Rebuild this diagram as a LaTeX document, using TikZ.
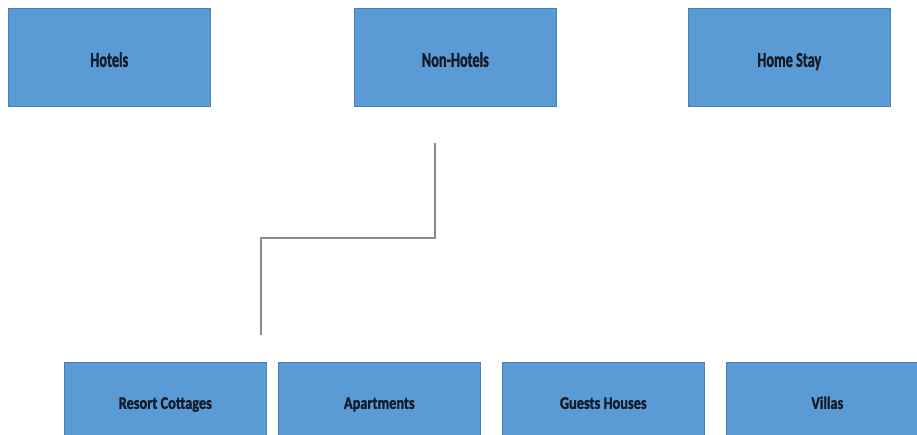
\documentclass[tikz,border=0pt]{standalone}
\usepackage{fontspec}
\setmainfont{Carlito}[BoldFeatures={FakeBold=1.5}]
\usepackage{graphicx}
\definecolor{boxfill}{HTML}{5B9BD5}
\definecolor{boxline}{HTML}{4A7FB5}
\definecolor{txt}{HTML}{141A26}
\definecolor{conn}{HTML}{8A8A8A}
\newcommand{\toplbl}[1]{\raisebox{-9.5pt}[0pt][0pt]{\scalebox{0.68}[1]{\fontsize{21}{24}\selectfont\bfseries #1}}}
\newcommand{\botlbl}[1]{\raisebox{2.5pt}[0pt][0pt]{\scalebox{0.82}[1]{\fontsize{17.5}{20}\selectfont\bfseries #1}}}
\begin{document}
\begin{tikzpicture}[x=1pt,y=-1pt,
  catbox/.style={draw=boxline,line width=0.6pt,fill=boxfill,text=txt,
    minimum width=202pt,minimum height=98pt,inner sep=0pt,anchor=north west},
  conline/.style={draw=conn,line width=1.6pt}]
\useasboundingbox (0,0) rectangle (917,435);
\clip (0,0) rectangle (917,435);
\fill[white] (0,0) rectangle (917,435);
\node[catbox] (hotels) at (8,8) {\toplbl{Hotels}};
\node[catbox] (nonhotels) at (354,8) {\toplbl{Non-Hotels}};
\node[catbox] (homestay) at (688,8) {\toplbl{Home Stay}};
\node[catbox] (resort) at (64,362) {\botlbl{Resort Cottages}};
\node[catbox] (apart) at (278,362) {\botlbl{Apartments}};
\node[catbox] (guests) at (502,362) {\botlbl{Guests Houses}};
\node[catbox] (villas) at (726,362) {\botlbl{Villas}};
\coordinate (cstart) at (435,143);
\coordinate (cend) at (261,335);
\draw[conline] (cstart) |- (cend |- 0,238) -- (cend);
\end{tikzpicture}
\end{document}
